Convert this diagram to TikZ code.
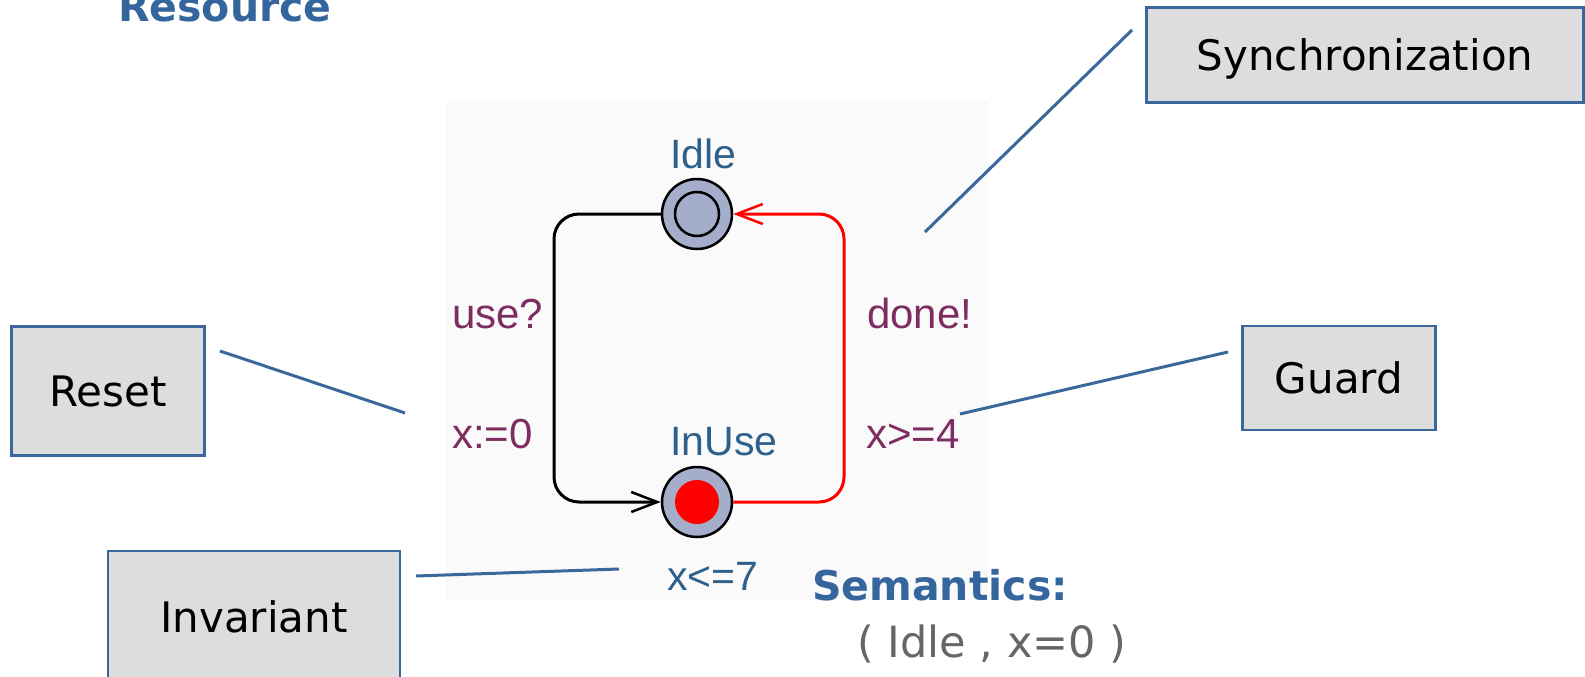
\documentclass[tikz,border=0pt]{standalone}
\usepackage{fontspec}
\setmainfont{Liberation Sans}
\newfontfamily\headfont{DejaVu Sans}
\usetikzlibrary{arrows.meta,positioning}
\definecolor{titleblue}{RGB}{52,101,157}
\definecolor{nameblue}{RGB}{46,96,140}
\definecolor{labelpurple}{RGB}{125,45,95}
\definecolor{locfill}{RGB}{164,174,203}
\definecolor{boxfill}{RGB}{221,221,221}
\definecolor{boxline}{RGB}{58,104,155}
\definecolor{panelgray}{RGB}{250,250,250}
\definecolor{stategray}{RGB}{102,102,102}

\begin{document}
\begin{tikzpicture}[
    x=1pt, y=-1pt,
    location/.style={
        draw,
        circle,
        fill=locfill,
        line width=2.5pt,
        minimum size=70pt,
        inner sep=0pt
    },
    locname/.style={anchor=base west,inner sep=0pt,text=nameblue,font=\fontsize{41}{49}\selectfont},
    edgelabel/.style={anchor=base west,inner sep=0pt,text=labelpurple,font=\fontsize{42}{50}\selectfont},
    callout/.style={
        draw=boxline,
        fill=boxfill,
        line width=2.5pt,
        inner sep=0pt,
        font=\headfont\fontsize{42}{50}\selectfont
    },
    pointer/.style={boxline,line width=3pt},
    edge/.style={line width=3pt,rounded corners=25pt,-{Straight Barb[length=26pt,width=20pt,line width=2.5pt]}},
    heading/.style={anchor=base west,inner sep=0pt,text=titleblue,font=\headfont\bfseries\fontsize{41}{49}\selectfont}
]
\useasboundingbox (0,0) rectangle (1585,677);
\fill[panelgray] (445,101) rectangle (988,601);

\node[heading] (title) at (118,22) {Resource};

\node[location] (idle) at (697,214) {};
\node[location,minimum size=44pt] (idleinit) at (idle) {};
\node[location] (inuse) at (697,502) {};
\node[circle,fill=red,minimum size=44pt,inner sep=0pt] (inusemark) at (inuse) {};

\node[locname] (idlename) at (670,168) {Idle};
\node[locname] (inusename) at (670,455) {InUse};
\node[locname] (invlabel) at (667,590) {x<=7};

\draw[edge] (idle) -- (554,214) -- (554,502) -- (inuse);
\draw[edge,red] (inuse) -- (844,502) -- (844,214) -- (idle);

\node[edgelabel] (uselabel) at (452,328) {use?};
\node[edgelabel] (resetlabel) at (452,448) {x:=0};
\node[edgelabel] (donelabel) at (867,328) {done!};
\node[edgelabel] (guardlabel) at (866,448) {x>=4};

\node[callout,minimum width=437pt,minimum height=95pt,text depth=0pt] (syncbox) at (1365,55) {Synchronization};
\node[callout,minimum width=193pt,minimum height=104pt] (guardbox) at (1339,378) {Guard};
\node[callout,minimum width=193pt,minimum height=129pt] (resetbox) at (108,391) {Reset};
\node[callout,minimum width=292pt,minimum height=132pt] (invbox) at (254,617) {Invariant};

\coordinate (syncfrom) at (1132,30);
\coordinate (syncto) at (925,232);
\coordinate (guardfrom) at (1228,352);
\coordinate (guardto) at (960,414);
\coordinate (resetfrom) at (220,351);
\coordinate (resetto) at (405,413);
\coordinate (invfrom) at (416,576);
\coordinate (invto) at (619,569);

\draw[pointer] (syncfrom) -- (syncto);
\draw[pointer] (guardfrom) -- (guardto);
\draw[pointer] (resetfrom) -- (resetto);
\draw[pointer] (invfrom) -- (invto);

\node[heading] (semantics) at (812,600) {Semantics:};
\node[anchor=base west,inner sep=0pt,text=stategray,font=\headfont\fontsize{43}{51}\selectfont] (state) at (857,657) {( Idle , x=0 )};
\end{tikzpicture}
\end{document}
